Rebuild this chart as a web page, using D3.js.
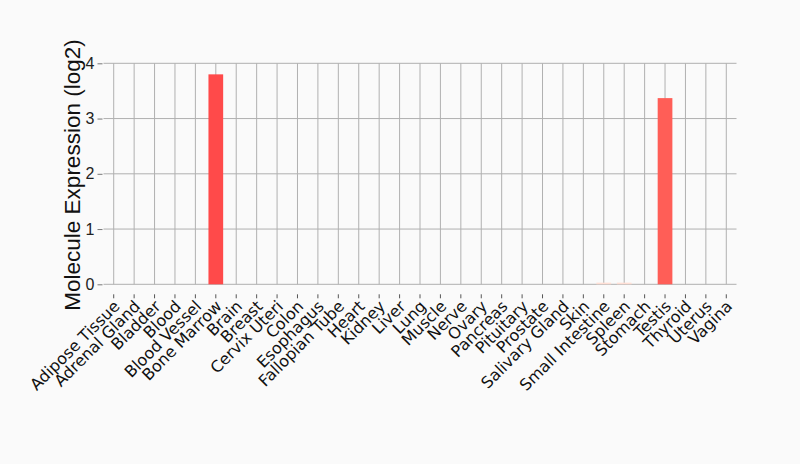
<!DOCTYPE html>
<html><head><meta charset="utf-8">
<script src="https://cdn.jsdelivr.net/npm/d3@7"></script>
<style>body{margin:0;background:#fafafa;}svg{display:block;}
.xl{font-family:"DejaVu Sans";font-size:16px;}
.yl{font-family:"Liberation Sans";}
</style>
</head><body>
<svg id="c" width="800" height="464"></svg>
<script>
const categories = ["Adipose Tissue","Adrenal Gland","Bladder","Blood","Blood Vessel","Bone Marrow","Brain","Breast","Cervix Uteri","Colon","Esophagus","Fallopian Tube","Heart","Kidney","Liver","Lung","Muscle","Nerve","Ovary","Pancreas","Pituitary","Prostate","Salivary Gland","Skin","Small Intestine","Spleen","Stomach","Testis","Thyroid","Uterus","Vagina"];
const values = [0,0,0,0,0,3.80,0,0,0,0,0,0,0,0,0,0,0,0,0,0,0,0,0,0,0.03,0.03,0,3.37,0,0,0];
const yTicks = [0,1,2,3,4];

const svg = d3.select("#c");
const L = 103.5, R = 736.5, T = 63.3, B = 284.3;
const x = d3.scaleBand().domain(categories).range([L, R]).paddingInner(0.28).paddingOuter(0.14);
const y = d3.scaleLinear().domain([0, 4]).range([B, T]);
const color = d3.scaleLinear().domain([0, 3.37, 3.8]).range(["#ffe0d6", "#ff5e57", "#ff4a4a"]);

svg.append("rect").attr("width",800).attr("height",464).attr("fill","#fafafa");

const g = svg.append("g");
g.selectAll(".hg").data(yTicks).join("line")
  .attr("x1", L).attr("x2", R).attr("y1", d=>y(d)).attr("y2", d=>y(d))
  .attr("stroke", "#b0b0b0").attr("stroke-width", 1);
g.selectAll(".vg").data(categories).join("line")
  .attr("x1", d=>x(d)+x.bandwidth()/2).attr("x2", d=>x(d)+x.bandwidth()/2)
  .attr("y1", T).attr("y2", B)
  .attr("stroke", "#b0b0b0").attr("stroke-width", 1);

svg.selectAll(".bar").data(categories).join("rect")
  .attr("x", d=>x(d)).attr("width", x.bandwidth())
  .attr("y", (d,i)=>y(values[i])).attr("height", (d,i)=>B - y(values[i]))
  .attr("fill", (d,i)=>color(values[i]));

const ya = svg.append("g").attr("transform", `translate(${L-1},0)`)
  .call(d3.axisLeft(y).tickValues(yTicks).tickSize(5).tickPadding(3).tickFormat(d3.format("d")));
ya.attr("font-family", null).attr("font-size", null);
ya.select(".domain").remove();
ya.selectAll("line").attr("stroke","#777");
ya.selectAll("text").attr("class","yl").style("font-size","16px").attr("fill","#222");

const xa = svg.append("g").attr("transform", `translate(0,${B+10})`)
  .call(d3.axisBottom(x).tickSize(4).tickPadding(2));
xa.attr("font-family", null).attr("font-size", null);
xa.select(".domain").remove();
xa.selectAll("line").attr("stroke","#555");
xa.selectAll("text")
  .attr("class","xl").attr("fill","#111")
  .attr("text-anchor","end")
  .attr("x",0).attr("y",0).attr("dy",0)
  .attr("transform","translate(7,13) rotate(-45)");

svg.append("text")
  .attr("class","yl")
  .attr("transform", `translate(80,175) rotate(-90)`)
  .attr("text-anchor","middle")
  .style("font-size","22.5px").attr("fill","#111")
  .text("Molecule Expression (log2)");
</script>
</body></html>
